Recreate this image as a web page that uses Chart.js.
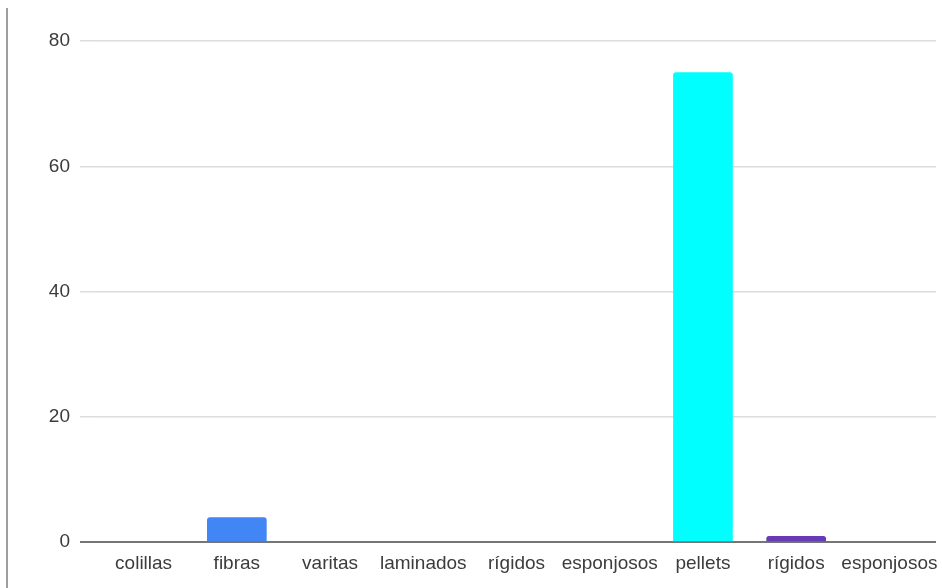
<!DOCTYPE html>
<html>
<head>
<meta charset="utf-8">
<script src="https://cdn.jsdelivr.net/npm/chart.js@4/dist/chart.umd.min.js"></script>
<style>
  html, body { margin: 0; padding: 0; background: #fff; }
  #wrap { width: 942px; height: 588px; position: relative; }
</style>
</head>
<body>
<div id="wrap"><canvas id="c"></canvas></div>
<script>
const categories = ["colillas", "fibras", "varitas", "laminados", "rígidos", "esponjosos", "pellets", "rígidos", "esponjosos"];
const values = [0, 4, 0, 0, 0, 0, 75, 1, 0];
const barColors = ["#4285F4", "#4285F4", "#4285F4", "#4285F4", "#4285F4", "#4285F4", "#00FFFF", "#673AB7", "#4285F4"];
const yTicks = [0, 20, 40, 60, 80];

const leftLine = {
  id: 'leftLine',
  beforeDraw(chart) {
    const ctx = chart.ctx;
    ctx.save();
    ctx.strokeStyle = '#9e9e9e';
    ctx.lineWidth = 2;
    ctx.beginPath();
    ctx.moveTo(7, 8);
    ctx.lineTo(7, 588);
    ctx.stroke();
    ctx.restore();
  }
};

new Chart(document.getElementById('c'), {
  type: 'bar',
  data: {
    labels: categories,
    datasets: [{
      data: values,
      backgroundColor: barColors,
      borderRadius: { topLeft: 3, topRight: 3, bottomLeft: 0, bottomRight: 0 },
      borderSkipped: 'bottom',
      categoryPercentage: 0.8,
      barPercentage: 0.8
    }]
  },
  options: {
    responsive: true,
    maintainAspectRatio: false,
    animation: false,
    plugins: { legend: { display: false }, tooltip: { enabled: false } },
    layout: { padding: { top: 41, right: 6, bottom: 3, left: 0 } },
    scales: {
      x: {
        afterFit(scale) { scale.paddingRight = 0; scale.paddingLeft = 0; },
        grid: { display: false, drawTicks: false },
        border: { display: false },
        ticks: {
          color: '#3c3c3c',
          font: { family: 'Liberation Sans, Arial, sans-serif', size: 19 },
          maxRotation: 0, minRotation: 0, autoSkip: false, padding: 10
        }
      },
      y: {
        min: 0, max: 80,
        afterFit(scale) { scale.width = 97; },
        afterBuildTicks(scale) { scale.ticks = yTicks.map(v => ({ value: v })); },
        grid: {
          color: (ctx) => ctx.tick && ctx.tick.value === 0 ? '#757575' : '#dcdcdc',
          lineWidth: (ctx) => ctx.tick && ctx.tick.value === 0 ? 2 : 1.5,
          tickColor: (ctx) => ctx.tick && ctx.tick.value === 0 ? '#757575' : '#dcdcdc',
          tickLength: 17,
          drawTicks: true
        },
        border: { display: false },
        ticks: {
          color: '#3c3c3c',
          font: { family: 'Liberation Sans, Arial, sans-serif', size: 19 },
          padding: 10
        }
      }
    }
  },
  plugins: [leftLine]
});
</script>
</body>
</html>
